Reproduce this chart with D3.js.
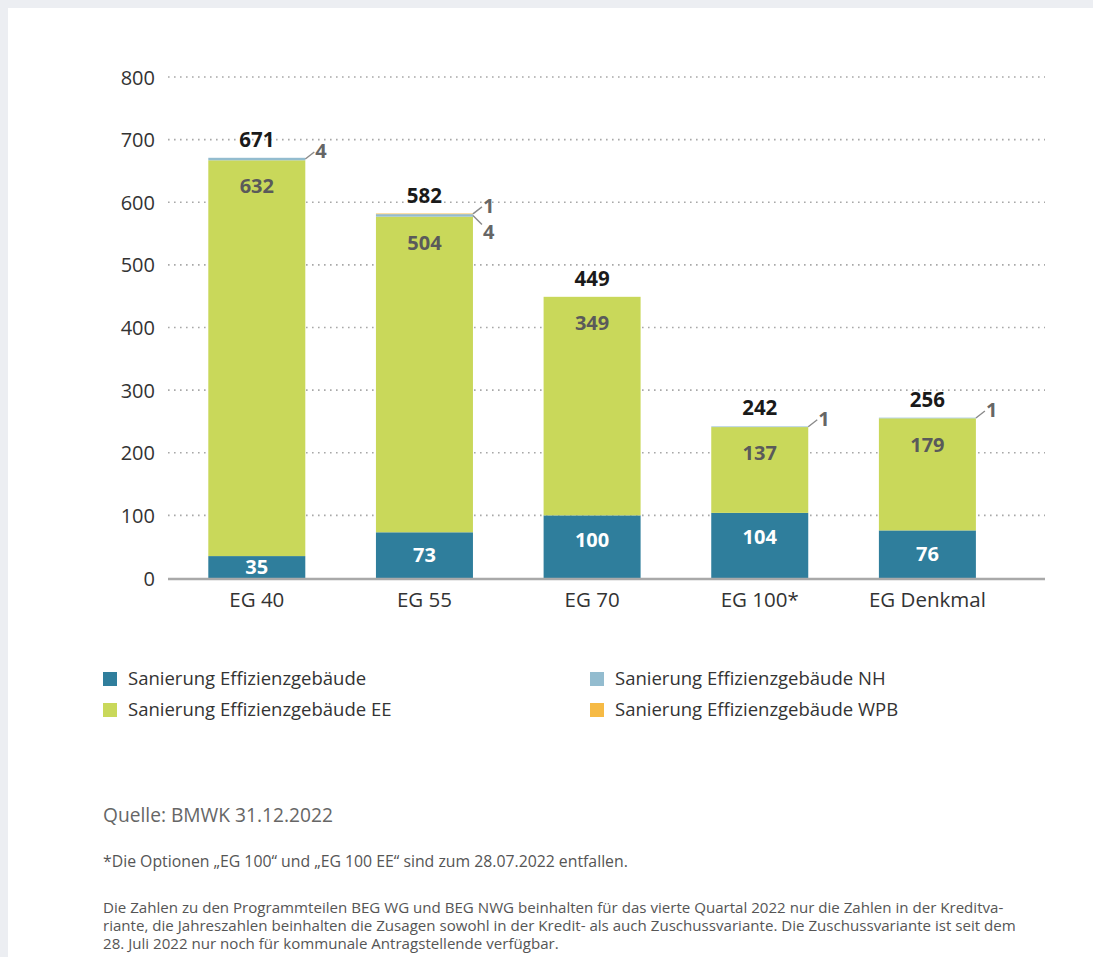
<!DOCTYPE html>
<html><head><meta charset="utf-8">
<script src="https://cdn.jsdelivr.net/npm/d3@7/dist/d3.min.js"></script>
<style>
html,body{margin:0;padding:0;background:#eceef2;}
svg{display:block;}
text{font-family:"Open Sans","Noto Sans",sans-serif;}
</style></head>
<body>
<svg id="c" width="1093" height="957"></svg>
<script>
const categories = ["EG 40","EG 55","EG 70","EG 100*","EG Denkmal"];
const seriesNames = ["Sanierung Effizienzgebäude","Sanierung Effizienzgebäude EE","Sanierung Effizienzgebäude NH","Sanierung Effizienzgebäude WPB"];
const effizienz = [35,73,100,104,76];
const effizienzEE = [632,504,349,137,179];
const effizienzNH = [4,4,0,1,1];
const effizienzWPB = [0,1,0,0,0];
const totals = [671,582,449,242,256];
const yTicks = [0,100,200,300,400,500,600,700,800];
const colors = ["#2f7e9c","#c9d85a","#93bccf","#f6ba45"];
const source = "Quelle: BMWK 31.12.2022";
const footnote = "*Die Optionen „EG 100“ und „EG 100 EE“ sind zum 28.07.2022 entfallen.";
const notes = ["Die Zahlen zu den Programmteilen BEG WG und BEG NWG beinhalten für das vierte Quartal 2022 nur die Zahlen in der Kreditva-",
"riante, die Jahreszahlen beinhalten die Zusagen sowohl in der Kredit- als auch Zuschussvariante. Die Zuschussvariante ist seit dem",
"28. Juli 2022 nur noch für kommunale Antragstellende verfügbar."];

const FONT = '"Open Sans","Noto Sans",sans-serif';
const svg = d3.select("#c");
svg.append("rect").attr("x",8).attr("y",8).attr("width",1093).attr("height",957).attr("fill","#fff");

const x0 = 168, x1 = 1045;
const y = d3.scaleLinear().domain([0,800]).range([578,77]);
const x = d3.scaleBand().domain(categories).range([208.3,975.9]).paddingInner(0.4214).paddingOuter(0);

// grid
svg.append("g").selectAll("line").data(yTicks.filter(d=>d>0)).join("line")
 .attr("x1",x0).attr("x2",x1).attr("y1",d=>y(d)).attr("y2",d=>y(d))
 .attr("stroke","#a8a8a8").attr("stroke-width",1.6).attr("stroke-dasharray","1.6 4.4");
// y axis labels
const ya = svg.append("g").attr("transform",`translate(155,0)`).call(d3.axisLeft(y).tickValues(yTicks).tickSize(0).tickPadding(0));
ya.select(".domain").remove();
ya.selectAll("text").attr("font-size",20).attr("fill","#333").attr("dy","0.35em").style("font-family",FONT);

// stack
const rows = categories.map((c,i)=>({cat:c, a:effizienz[i], b:effizienzEE[i], c:effizienzNH[i], d:effizienzWPB[i]}));
const stack = d3.stack().keys(["a","b","c","d"])(rows);
stack.forEach((s,si)=>{
  svg.append("g").selectAll("rect").data(s).join("rect")
   .attr("x",d=>x(d.data.cat)).attr("width",x.bandwidth())
   .attr("y",d=>y(d[1])).attr("height",d=>Math.max(0,y(d[0])-y(d[1])))
   .attr("fill",colors[si]);
});

// x axis baseline
svg.append("line").attr("x1",x0).attr("x2",x1).attr("y1",y(0)+1).attr("y2",y(0)+1).attr("stroke","#a9a9a9").attr("stroke-width",2.5);
const xa = svg.append("g").attr("transform",`translate(0,${y(0)})`).call(d3.axisBottom(x).tickSize(0).tickPadding(0));
xa.select(".domain").remove();
xa.selectAll("text").attr("font-size",20.5).attr("fill","#333").attr("dy","1.42em").style("font-family",FONT);

// labels
const lab = svg.append("g").attr("font-weight",700).attr("font-size",20).attr("text-anchor","middle");
stack[0].forEach(d=>{
  const top=y(d[1]), bot=y(d[0]);
  lab.append("text").attr("x",x(d.data.cat)+x.bandwidth()/2).attr("y",Math.min(top+24,(top+bot)/2)).attr("dy","0.36em").attr("fill","#fff").text(d[1]-d[0]);
});
stack[1].forEach(d=>{
  const top=y(d[1]);
  lab.append("text").attr("x",x(d.data.cat)+x.bandwidth()/2).attr("y",top+26).attr("dy","0.36em").attr("fill","#5a5a5a").text(d[1]-d[0]);
});
categories.forEach((c,i)=>{
  lab.append("text").attr("x",x(c)+x.bandwidth()/2).attr("y",y(totals[i])-11).attr("fill","#1a1a1a").attr("font-size",20.5).text(totals[i]);
});
// small labels NH / WPB with leader lines
const small = svg.append("g").attr("font-weight",700).attr("font-size",20).attr("fill","#666");
categories.forEach((c,i)=>{
  const right = x(c)+x.bandwidth();
  const items = [];
  if (effizienzWPB[i]>0) items.push({v:effizienzWPB[i], s:stack[3][i]});
  if (effizienzNH[i]>0) items.push({v:effizienzNH[i], s:stack[2][i]});
  items.forEach((it,k)=>{
    const sy = y((it.s[0]+it.s[1])/2);
    const ly = (items.length===1 || k===0) ? sy-8 : sy+16;
    small.append("line").attr("x1",right).attr("y1",sy).attr("x2",right+9).attr("y2",ly+(k===1?-7:1))
      .attr("stroke","#8a8a8a").attr("stroke-width",1.4);
    small.append("text").attr("x",right+10).attr("y",ly).attr("dy","0.36em").text(it.v);
  });
});

// legend
const legPos = [[103,679],[103,710],[590,679],[590,710]];
const leg = svg.append("g");
seriesNames.forEach((name,si)=>{
  const [lx,ly] = legPos[si];
  leg.append("rect").attr("x",lx).attr("y",ly-7).attr("width",14).attr("height",14).attr("fill",colors[si]);
  leg.append("text").attr("x",lx+25).attr("y",ly).attr("dy","0.35em").attr("font-size",18.5).attr("fill","#333").text(name);
});

// footer
svg.append("text").attr("x",103).attr("y",815).attr("dy","0.35em").attr("font-size",19.2).attr("fill","#666").text(source);
svg.append("text").attr("x",103).attr("y",861).attr("dy","0.35em").attr("font-size",15.8).attr("fill","#555").text(footnote);
notes.forEach((t,i)=>{
  svg.append("text").attr("x",103).attr("y",908+i*18).attr("dy","0.35em").attr("font-size",15.1).attr("fill","#555").text(t);
});
</script>
</body></html>
